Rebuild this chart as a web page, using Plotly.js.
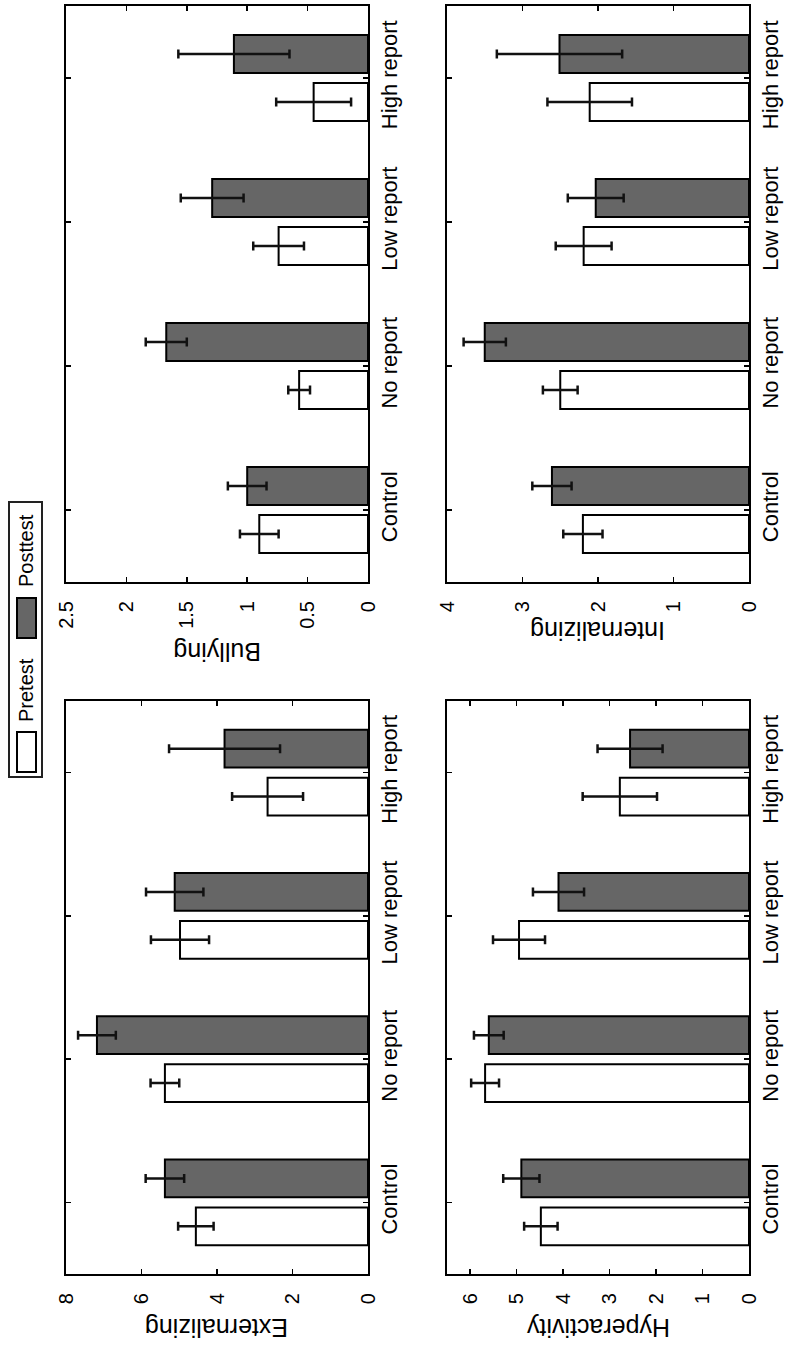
<!DOCTYPE html>
<html>
<head>
<meta charset="utf-8">
<script src="https://cdn.plot.ly/plotly-3.0.1.min.js"></script>
<style>
  html, body { margin: 0; padding: 0; background: #fff; }
  #chart { width: 785px; height: 1348px; }
</style>
</head>
<body>
<div id="chart"></div>
<script>
// ---------------- data ----------------
const categories = ['Control', 'No report', 'Low report', 'High report'];
const seriesNames = ['Pretest', 'Posttest'];

const bullyingPre = [0.90, 0.57, 0.74, 0.45];
const bullyingPreErr = [0.16, 0.09, 0.21, 0.31];
const bullyingPost = [1.00, 1.67, 1.29, 1.11];
const bullyingPostErr = [0.16, 0.17, 0.26, 0.46];

const internalizingPre = [2.20, 2.50, 2.19, 2.11];
const internalizingPreErr = [0.26, 0.23, 0.37, 0.56];
const internalizingPost = [2.61, 3.50, 2.03, 2.51];
const internalizingPostErr = [0.26, 0.28, 0.37, 0.83];

const externalizingPre = [4.56, 5.38, 4.98, 2.66];
const externalizingPreErr = [0.47, 0.38, 0.77, 0.94];
const externalizingPost = [5.38, 7.18, 5.12, 3.80];
const externalizingPostErr = [0.51, 0.50, 0.76, 1.47];

const hyperactivityPre = [4.48, 5.68, 4.95, 2.78];
const hyperactivityPreErr = [0.36, 0.30, 0.56, 0.80];
const hyperactivityPost = [4.90, 5.60, 4.10, 2.56];
const hyperactivityPostErr = [0.39, 0.32, 0.55, 0.70];

const panelTitles = ['Bullying', 'Internalizing', 'Externalizing', 'Hyperactivity'];
const bullyingTicks = [0, 0.5, 1, 1.5, 2, 2.5];
const internalizingTicks = [0, 1, 2, 3, 4];
const externalizingTicks = [0, 2, 4, 6, 8];
const hyperactivityTicks = [0, 1, 2, 3, 4, 5, 6];
const axisMax = [2.5, 4, 8, 6.5];

// ---------------- layout helpers ----------------
const W = 785, H = 1348;
const FONT = 'Liberation Sans, Arial, Helvetica, sans-serif';
const px = v => v / W;
const py = v => 1 - v / H;

const panels = [
  {pre: bullyingPre, preErr: bullyingPreErr, post: bullyingPost, postErr: bullyingPostErr, ticks: bullyingTicks,
   x0: 66, x1: 368, y0: 6, y1: 582, titleY: 652},
  {pre: internalizingPre, preErr: internalizingPreErr, post: internalizingPost, postErr: internalizingPostErr, ticks: internalizingTicks,
   x0: 447, x1: 749, y0: 6, y1: 582, titleY: 631},
  {pre: externalizingPre, preErr: externalizingPreErr, post: externalizingPost, postErr: externalizingPostErr, ticks: externalizingTicks,
   x0: 66, x1: 368, y0: 701, y1: 1274, titleY: 1328},
  {pre: hyperactivityPre, preErr: hyperactivityPreErr, post: hyperactivityPost, postErr: hyperactivityPostErr, ticks: hyperactivityTicks,
   x0: 447, x1: 749, y0: 701, y1: 1274, titleY: 1328}
];

const fills = ['#ffffff', '#666666'];
const traces = [];
const layout = {
  width: W, height: H,
  margin: {l: 0, r: 0, t: 0, b: 0},
  paper_bgcolor: '#ffffff', plot_bgcolor: '#ffffff',
  showlegend: false,
  barmode: 'group', bargap: 0.333, bargroupgap: 0.21,
  font: {family: FONT, color: '#000', size: 20},
  annotations: [], shapes: []
};

panels.forEach((p, i) => {
  const n = i === 0 ? '' : String(i + 1);
  const xa = 'x' + n, ya = 'y' + n;
  const vals = [[p.pre, p.preErr], [p.post, p.postErr]];
  vals.forEach((v, s) => {
    traces.push({
      type: 'bar', orientation: 'h', name: seriesNames[s],
      x: v[0], y: categories, xaxis: xa, yaxis: ya,
      marker: {color: fills[s], line: {color: '#000', width: 2}},
      error_x: {type: 'data', array: v[1], visible: true, color: '#111', thickness: 2.5, width: 4.5},
      hoverinfo: 'x+y+name'
    });
  });
  layout['xaxis' + n] = {
    domain: [px(p.x0), px(p.x1)], anchor: ya, side: 'bottom',
    range: [axisMax[i], 0], tickvals: p.ticks, ticktext: p.ticks.map(String),
    tickangle: -90, ticks: 'inside', ticklen: 5, tickwidth: 1.5, tickcolor: '#000',
    showline: true, linewidth: 2, linecolor: '#000', mirror: 'ticks',
    showgrid: false, zeroline: false, ticklabelstandoff: 9,
    tickfont: {family: FONT, size: 20, color: '#000'}, fixedrange: true
  };
  layout['yaxis' + n] = {
    domain: [py(p.y1), py(p.y0)], anchor: xa, side: 'right',
    type: 'category', categoryorder: 'array', categoryarray: categories,
    range: [-0.5, 3.5], tickangle: -90, ticks: 'inside', ticklen: 5, tickwidth: 1.5, tickcolor: '#000',
    showline: true, linewidth: 2, linecolor: '#000', mirror: 'ticks',
    showgrid: false, zeroline: false, ticklabelstandoff: 1,
    tickfont: {family: FONT, size: 22, color: '#000'}, fixedrange: true
  };
  layout.annotations.push({
    text: panelTitles[i], textangle: 180, showarrow: false,
    xref: 'paper', yref: 'paper', x: px((p.x0 + p.x1) / 2), y: py(p.titleY),
    xanchor: 'center', yanchor: 'middle',
    font: {family: FONT, size: 25, color: '#000'}
  });
});

// ---------------- legend (rotated, drawn by hand) ----------------
layout.shapes.push({type: 'rect', xref: 'paper', yref: 'paper',
  x0: px(9), x1: px(42), y0: py(777), y1: py(502),
  line: {color: '#222', width: 2}, fillcolor: '#fff', layer: 'above'});
const legendItems = [
  {name: seriesNames[1], fill: fills[1], sw0: 598, sw1: 638, textY: 551},
  {name: seriesNames[0], fill: fills[0], sw0: 732, sw1: 772, textY: 690}
];
legendItems.forEach(it => {
  layout.shapes.push({type: 'rect', xref: 'paper', yref: 'paper',
    x0: px(17), x1: px(36), y0: py(it.sw1), y1: py(it.sw0),
    line: {color: '#000', width: 2}, fillcolor: it.fill, layer: 'above'});
  layout.annotations.push({text: it.name, textangle: -90, showarrow: false,
    xref: 'paper', yref: 'paper', x: px(26), y: py(it.textY),
    xanchor: 'center', yanchor: 'middle',
    font: {family: FONT, size: 20, color: '#000'}});
});

Plotly.newPlot('chart', traces, layout, {displayModeBar: false, staticPlot: true});
</script>
</body>
</html>
